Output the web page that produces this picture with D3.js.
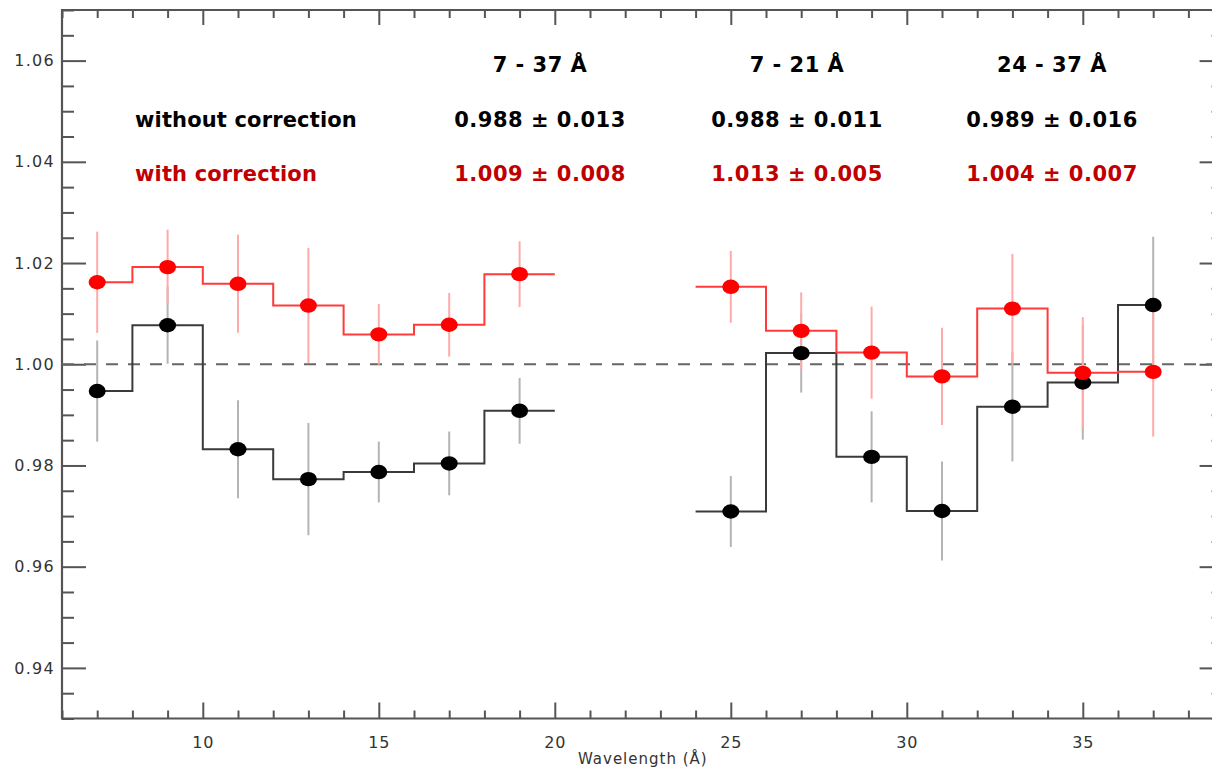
<!DOCTYPE html>
<html><head><meta charset="utf-8">
<script src="https://cdn.jsdelivr.net/npm/d3@7"></script>
<style>body{margin:0;background:#fff;overflow:hidden} svg{display:block}</style>
</head><body><svg id="chart" width="1212" height="767"></svg>
<script>
// ---- data ----
const leftX = [7, 9, 11, 13, 15, 17, 19];
const rightX = [25, 27, 29, 31, 33, 35, 37];
const leftStepEnd = 20;
const rightStepStart = 24;
const leftRaw = [0.9947, 1.0077, 0.9832, 0.9773, 0.9787, 0.9804, 0.9908];
const leftRawErr = [0.0100, 0.0076, 0.0097, 0.0111, 0.0060, 0.0063, 0.0065];
const leftCorr = [1.0162, 1.0192, 1.0159, 1.0116, 1.0059, 1.0078, 1.0178];
const leftCorrErr = [0.0100, 0.0074, 0.0097, 0.0114, 0.0060, 0.0063, 0.0065];
const rightRaw = [0.9709, 1.0022, 0.9817, 0.9710, 0.9916, 0.9964, 1.0117];
const rightRawErr = [0.0070, 0.0078, 0.0090, 0.0098, 0.0108, 0.0113, 0.0135];
const rightCorr = [1.0153, 1.0066, 1.0023, 0.9976, 1.0110, 0.9983, 0.9985];
const rightCorrErr = [0.0071, 0.0076, 0.0091, 0.0096, 0.0108, 0.0110, 0.0128];
const xTicksMajor = [10, 15, 20, 25, 30, 35];
const yTicksMajor = [0.94, 0.96, 0.98, 1.00, 1.02, 1.04, 1.06];
const columnHeads = ["7 - 37 Å", "7 - 21 Å", "24 - 37 Å"];
const rowLabels = ["without correction", "with correction"];
const rawSummary = ["0.988 ± 0.013", "0.988 ± 0.011", "0.989 ± 0.016"];
const corrSummary = ["1.009 ± 0.008", "1.013 ± 0.005", "1.004 ± 0.007"];
const xTitle = "Wavelength (Å)";

(function(){
// ---- layout ----
const svg = d3.select("#chart");
const pL = 62, pR = 62 + 33 * 35.2, pT = 10, pB = 718.5;
const x = d3.scaleLinear().domain([6, 39]).range([pL, pR]);
const y = d3.scaleLinear().domain([0.93, 1.07]).range([pB, pT]);
const axisColor = "#555";

const g = svg.append("g");
function styleAxis(sel){
  sel.select(".domain").remove();
  sel.selectAll("line").attr("stroke", axisColor).attr("stroke-width", 2);
}
const xMinor = d3.range(6, 40, 1).filter(v => v % 5 !== 0);
const yMinor = d3.range(0, 29).map(i => +(0.93 + i*0.005).toFixed(3)).filter(v => !yTicksMajor.some(m => Math.abs(m - v) < 1e-6));

// bottom
const gb = g.append("g").attr("transform", `translate(0,${pB})`);
gb.call(d3.axisBottom(x).tickValues(xMinor).tickSize(-8).tickFormat("")).call(styleAxis);
gb.append("g").call(d3.axisBottom(x).tickValues(xTicksMajor).tickSize(-16).tickFormat(d3.format("d")).tickPadding(0))
  .call(styleAxis)
  .call(s => s.selectAll("text").attr("y", 29).attr("fill", "#333").attr("font-family", "DejaVu Sans").attr("font-size", 16).attr("letter-spacing", 1).attr("dy", 0));
// top
const gt = g.append("g").attr("transform", `translate(0,${pT})`);
gt.call(d3.axisTop(x).tickValues(xMinor).tickSize(-8).tickFormat("")).call(styleAxis);
gt.append("g").call(d3.axisTop(x).tickValues(xTicksMajor).tickSize(-15).tickFormat("")).call(styleAxis);
// left
const gl = g.append("g").attr("transform", `translate(${pL},0)`);
gl.call(d3.axisLeft(y).tickValues(yMinor).tickSize(-12).tickFormat("")).call(styleAxis);
gl.append("g").call(d3.axisLeft(y).tickValues(yTicksMajor).tickSize(-24).tickFormat(d3.format(".2f")))
  .call(styleAxis)
  .call(s => s.selectAll("text").attr("x", -7).attr("fill", "#333").attr("font-family", "DejaVu Sans").attr("font-size", 16).attr("letter-spacing", 1.3));
// right
const gr = g.append("g").attr("transform", `translate(${pR},0)`);
gr.call(d3.axisRight(y).tickValues(yMinor).tickSize(-12).tickFormat("")).call(styleAxis);
gr.append("g").call(d3.axisRight(y).tickValues(yTicksMajor).tickSize(-24).tickFormat("")).call(styleAxis);
// frame
g.append("path").attr("d", `M${pL},${pB}V${pT}H${pR}V${pB}Z`).attr("fill", "none").attr("stroke", axisColor).attr("stroke-width", 2.2);

// x title
svg.append("text").attr("x", (pL + pR) / 2).attr("y", 764).attr("text-anchor", "middle")
  .attr("font-family", "DejaVu Sans").attr("font-size", 15).attr("letter-spacing", 1).attr("fill", "#333").text(xTitle);

// reference line
svg.append("line").attr("x1", pL).attr("x2", pR).attr("y1", y(1)).attr("y2", y(1))
  .attr("stroke", "#666").attr("stroke-width", 2).attr("stroke-dasharray", "12,10");

// ---- series ----
const series = [
  {xs: leftX, vals: leftRaw, errs: leftRawErr, color: "#000", line: "#3a3a3a", bar: "#b4b4b4", ext: "end"},
  {xs: rightX, vals: rightRaw, errs: rightRawErr, color: "#000", line: "#3a3a3a", bar: "#b4b4b4", ext: "start"},
  {xs: leftX, vals: leftCorr, errs: leftCorrErr, color: "#ff0000", line: "#ff3a3a", bar: "#ffaaaa", ext: "end"},
  {xs: rightX, vals: rightCorr, errs: rightCorrErr, color: "#ff0000", line: "#ff3a3a", bar: "#ffaaaa", ext: "start"}
];
const gErr = svg.append("g"), gLine = svg.append("g"), gPt = svg.append("g");
const lineGen = d3.line().x(d => x(d[0])).y(d => y(d[1])).curve(d3.curveStep);
series.forEach(s => {
  const pts = s.xs.map((v, i) => [v, s.vals[i], s.errs[i]]);
  gErr.selectAll(null).data(pts).join("line")
    .attr("x1", d => x(d[0])).attr("x2", d => x(d[0]))
    .attr("y1", d => y(d[1] + d[2])).attr("y2", d => y(d[1] - d[2]))
    .attr("stroke", s.bar).attr("stroke-width", 2);
  let stepPts = pts.map(d => [d[0], d[1]]);
  if (s.ext === "end") stepPts.push([leftStepEnd, pts[pts.length - 1][1]]);
  else stepPts.unshift([rightStepStart, pts[0][1]]);
  gLine.append("path").datum(stepPts).attr("d", lineGen)
    .attr("fill", "none").attr("stroke", s.line).attr("stroke-width", 2);
});
series.forEach(s => {
  const pts = s.xs.map((v, i) => [v, s.vals[i]]);
  gPt.selectAll(null).data(pts).join("ellipse")
    .attr("cx", d => x(d[0])).attr("cy", d => y(d[1]))
    .attr("rx", 8.5).attr("ry", 7.2).attr("fill", s.color);
});

// ---- annotation table ----
const colX = [540, 797, 1052];
function txt(xp, yp, t, color, anchor, ls){
  svg.append("text").attr("x", xp).attr("y", yp).attr("text-anchor", anchor)
    .attr("font-family", "DejaVu Sans").attr("font-weight", "bold").attr("font-size", 21)
    .attr("letter-spacing", ls).attr("fill", color).text(t);
}
columnHeads.forEach((t, i) => txt(colX[i], 72, t, "#000", "middle", 0.5));
txt(135, 127, rowLabels[0], "#000", "start", 0.15);
txt(135, 181, rowLabels[1], "#c00000", "start", 0.15);
rawSummary.forEach((t, i) => txt(colX[i], 127, t, "#000", "middle", 0.5));
corrSummary.forEach((t, i) => txt(colX[i], 181, t, "#c00000", "middle", 0.5));
})();
</script></body></html>
